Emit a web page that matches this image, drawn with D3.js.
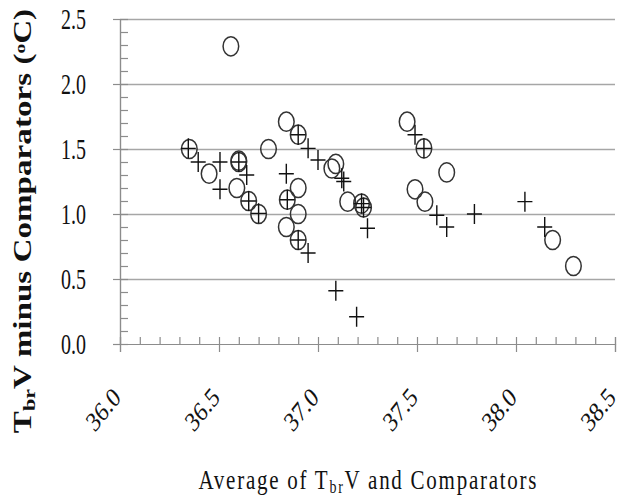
<!DOCTYPE html>
<html>
<head>
<meta charset="utf-8">
<script src="https://cdn.jsdelivr.net/npm/d3@7"></script>
<style>
  html, body { margin: 0; padding: 0; background: #fff; }
  svg { display: block; }
  text { font-family: "Liberation Serif", "Times New Roman", serif; fill: #111; }
</style>
</head>
<body>
<svg id="chart" width="620" height="501"></svg>
<script>
// Bland-Altman style scatter: TbrV minus comparators vs. their average.
// Open circles and crosses are the two comparator series.

const circleAvg = [36.35, 36.45, 36.56, 36.60, 36.60, 36.59, 36.65, 36.70, 36.75, 36.84,
  36.90, 36.845, 36.90, 36.90, 36.84, 36.90, 37.07, 37.09, 37.15, 37.22,
  37.23, 37.45, 37.535, 37.65, 37.49, 37.54, 38.185, 38.29];
const circleDiff = [1.50, 1.31, 2.29, 1.40, 1.41, 1.20, 1.10, 1.00, 1.50, 1.71,
  1.61, 1.11, 1.20, 1.00, 0.90, 0.80, 1.35, 1.385, 1.095, 1.08,
  1.05, 1.71, 1.505, 1.32, 1.19, 1.095, 0.80, 0.60];

const crossAvg = [36.345, 36.395, 36.505, 36.60, 36.64, 36.505, 36.65, 36.70, 36.84, 36.845,
  36.90, 36.95, 37.00, 37.12, 37.13, 36.90, 36.95, 37.09, 37.195, 37.22,
  37.23, 37.25, 37.49, 37.535, 37.60, 37.65, 37.79, 38.045, 38.145];
const crossDiff = [1.505, 1.40, 1.40, 1.40, 1.30, 1.19, 1.10, 1.005, 1.31, 1.11,
  1.61, 1.505, 1.415, 1.275, 1.25, 0.80, 0.70, 0.41, 0.21, 1.08,
  1.05, 0.89, 1.61, 1.505, 0.99, 0.90, 1.00, 1.095, 0.90];

const xTicks = [36.0, 36.5, 37.0, 37.5, 38.0, 38.5];
const yTicks = [0.0, 0.5, 1.0, 1.5, 2.0, 2.5];

const STRETCH = 1.3; // the source picture is taller than it is wide

const svg = d3.select('#chart');
const x = d3.scaleLinear().domain([36, 38.5]).range([120, 615]);
const y = d3.scaleLinear().domain([0, 2.5]).range([344, 19]);
const minorX = d3.range(36, 38.501, 0.1);
const minorY = d3.range(0, 2.501, 0.1);

// horizontal gridlines
svg.append('g')
  .attr('transform', `translate(${x(36)},0)`)
  .call(d3.axisLeft(y).tickValues(yTicks.slice(1)).tickSize(-(x(38.5) - x(36))).tickFormat(''))
  .call((g) => g.select('.domain').remove())
  .call((g) => g.selectAll('line').attr('stroke', '#a6a6a6').attr('stroke-width', 1.3));

// y axis: major ticks outward, minor ticks inward
const yAxis = svg.append('g').attr('transform', `translate(${x(36)},0)`);
yAxis.append('g')
  .call(d3.axisRight(y).tickValues(minorY).tickSize(8).tickFormat(''));
yAxis.append('g')
  .call(d3.axisLeft(y).tickValues(yTicks).tickSize(7).tickFormat(''));
yAxis.selectAll('path, line').attr('stroke', '#8c8c8c').attr('stroke-width', 1.2);

// x axis: major ticks down, minor ticks up
const xAxis = svg.append('g').attr('transform', `translate(0,${y(0)})`);
xAxis.append('g')
  .call(d3.axisTop(x).tickValues(minorX).tickSize(7).tickFormat(''));
xAxis.append('g')
  .call(d3.axisBottom(x).tickValues(xTicks).tickSize(8).tickFormat(''));
xAxis.selectAll('path, line').attr('stroke', '#8c8c8c').attr('stroke-width', 1.2);

// tick labels
svg.append('g').selectAll('text')
  .data(yTicks)
  .join('text')
  .attr('transform', (d) => `translate(86,${y(d)}) scale(1,1.45)`)
  .attr('text-anchor', 'end')
  .attr('dy', '0.34em')
  .style('font-size', '20px')
  .text((d) => d.toFixed(1));

svg.append('g').selectAll('text')
  .data(xTicks)
  .join('text')
  .attr('transform', (d) => `translate(${x(d) + 2},399) scale(1,1.25) rotate(-45)`)
  .attr('text-anchor', 'end')
  .style('font-size', '22px')
  .text((d) => d.toFixed(1));

// axis titles
const xt = svg.append('text')
  .attr('transform', `translate(${(x(36) + x(38.5)) / 2},489) scale(1,${STRETCH})`)
  .attr('text-anchor', 'middle')
  .attr('textLength', 338)
  .attr('lengthAdjust', 'spacing')
  .style('font-size', '21px');
xt.append('tspan').text('Average of T');
xt.append('tspan').attr('baseline-shift', '-25%').style('font-size', '14px').text('br');
xt.append('tspan').text('V and Comparators');

const yt = svg.append('text')
  .attr('transform', `translate(31,221) scale(1,${STRETCH}) rotate(-90)`)
  .attr('text-anchor', 'middle')
  .style('font-size', '25.5px')
  .style('font-weight', 'bold');
yt.append('tspan').text('T');
yt.append('tspan').attr('baseline-shift', '-25%').style('font-size', '17px').text('br');
yt.append('tspan').text('V minus Comparators (');
yt.append('tspan').attr('baseline-shift', '40%').style('font-size', '15px').text('o');
yt.append('tspan').text('C)');

// markers
svg.append('g').selectAll('ellipse')
  .data(d3.zip(circleAvg, circleDiff))
  .join('ellipse')
  .attr('cx', (d) => x(d[0]))
  .attr('cy', (d) => y(d[1]))
  .attr('rx', 7.8)
  .attr('ry', 9.6)
  .attr('fill', 'none')
  .attr('stroke', '#333')
  .attr('stroke-width', 1.5);

svg.append('g').selectAll('path')
  .data(d3.zip(crossAvg, crossDiff))
  .join('path')
  .attr('d', (d) => {
    const cx = x(d[0]), cy = y(d[1]);
    return `M${cx - 7.5},${cy}H${cx + 7.5}M${cx},${cy - 10}V${cy + 10}`;
  })
  .attr('fill', 'none')
  .attr('stroke', '#111')
  .attr('stroke-width', 1.4);
</script>
</body>
</html>
